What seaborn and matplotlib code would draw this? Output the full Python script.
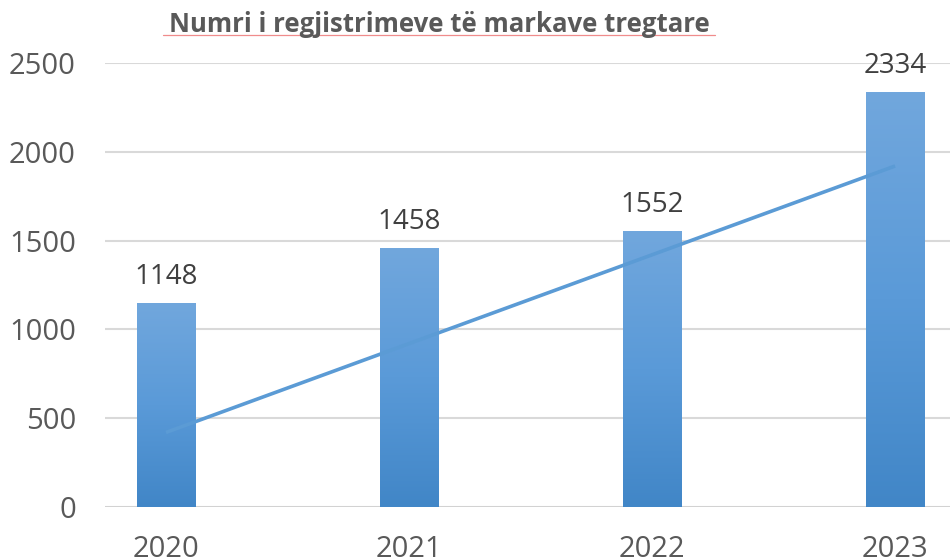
import matplotlib
matplotlib.use("Agg")
import matplotlib.pyplot as plt
import seaborn as sns
import numpy as np
import pandas as pd
from matplotlib.colors import LinearSegmentedColormap

# data
years = ["2020", "2021", "2022", "2023"]
registrations = [1148, 1458, 1552, 2334]
trend = [420, 920, 1420, 1920]

df = pd.DataFrame({"year": years, "count": registrations})

sns.set_theme(style="white")
plt.rcParams["font.family"] = ["Open Sans", "DejaVu Sans"]

fig = plt.figure(figsize=(9.5, 5.59), dpi=100)
ax = fig.add_axes([105 / 950, 52 / 559, 845 / 950, 444 / 559])

sns.barplot(data=df, x="year", y="count", color="#5b9bd5", width=0.24,
            ax=ax, zorder=2)

# gradient fill on each bar, lighter at top
cmap = LinearSegmentedColormap.from_list("bar", ["#4186c7", "#5a9ad8", "#71a7dd"])
grad = np.linspace(0, 1, 256).reshape(-1, 1)
for p in ax.patches:
    x0, y0 = p.get_x(), p.get_y()
    w, h = p.get_width(), p.get_height()
    p.set_facecolor("none")
    p.set_edgecolor("none")
    im = ax.imshow(grad, cmap=cmap, origin="lower", aspect="auto",
                   extent=[x0, x0 + w, y0, y0 + h], zorder=2)
    im.set_clip_path(p)
    ax.text(x0 + w / 2, h + 70, f"{h:.0f}", ha="center", va="bottom",
            fontsize=20, color="#404040", clip_on=False)

ax.plot(range(len(years)), trend, color="#5b9bd5", lw=2.6, zorder=3,
        solid_capstyle="butt")

ax.set_xlim(-0.251, 3.226)
ax.set_ylim(0, 2500)
ax.set_yticks([0, 500, 1000, 1500, 2000, 2500])
ax.yaxis.grid(True, color="#d9d9d9", lw=1.5)
ax.set_axisbelow(True)
for s in ax.spines.values():
    s.set_visible(False)
ax.axhline(0, color="#d0d0d0", lw=1.8, zorder=1)
ax.set_xlabel("")
ax.set_ylabel("")
ax.tick_params(axis="y", labelsize=21, labelcolor="#595959", pad=21, length=0)
ax.tick_params(axis="x", labelsize=21, labelcolor="#595959", pad=20, length=0)

fig.text(439 / 950, 1 - 25 / 559, "Numri i regjistrimeve të markave tregtare",
         ha="center", va="center", fontsize=18.5, fontweight="bold",
         color="#595959")
fig.add_artist(plt.Line2D([163 / 950, 715 / 950], [1 - 35 / 559, 1 - 35 / 559],
                          color="#f08c8c", lw=0.9))

fig.savefig("out.png", dpi=100)
